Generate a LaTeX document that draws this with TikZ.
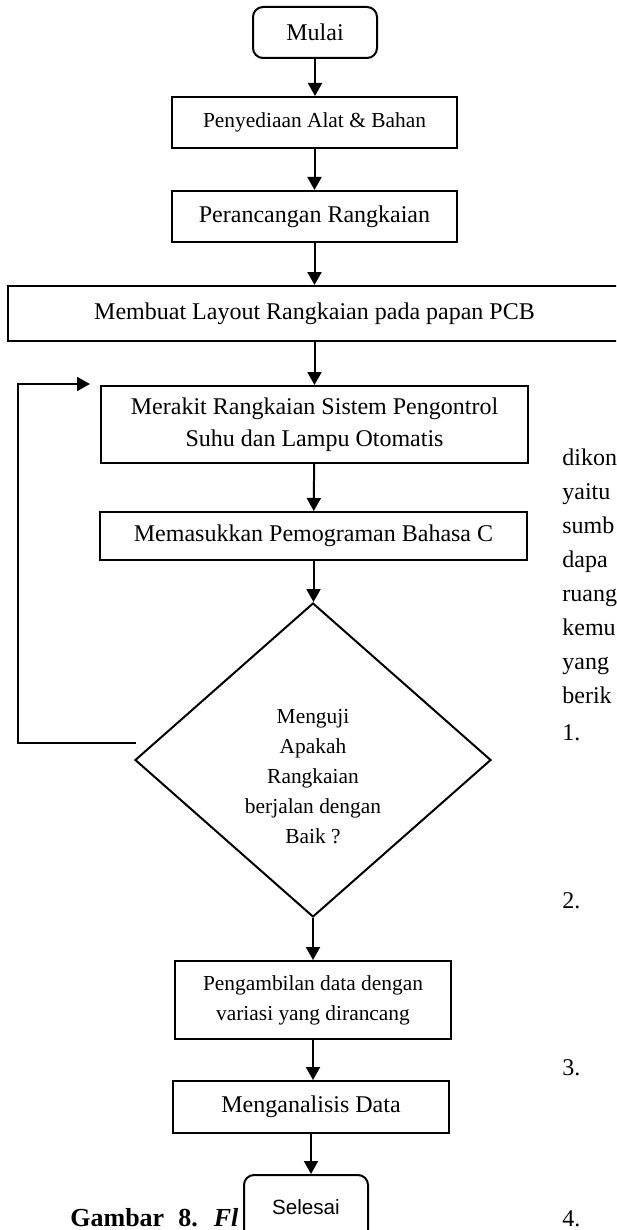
\documentclass[tikz,border=0pt]{standalone}
\usepackage{fontspec}
\setmainfont{Liberation Serif}
\setsansfont{Liberation Sans}
\usetikzlibrary{shapes.geometric,arrows.meta}

\tikzset{
  kotak/.style={draw,line width=1pt,inner sep=0pt,align=center,
    font=\fontsize{12}{16}\selectfont},
  kecil/.style={font=\fontsize{10.7}{15}\selectfont},
  terminal/.style={kotak,rounded corners=5pt},
  keputusan/.style={draw,diamond,line width=1pt,inner sep=0pt,
    minimum width=178pt,minimum height=157pt},
  panah/.style={line width=1pt,-{Triangle[length=6.5pt,width=7pt]}},
  halaman/.style={anchor=base west,inner sep=0pt,font=\fontsize{12}{15}\selectfont}
}

\begin{document}
\begin{tikzpicture}[x=0.5pt,y=-0.5pt]
  \useasboundingbox (0,0) rectangle (616,1230);
  \clip (0,0) rectangle (616,1230);
  % teks halaman di sebelah kanan
  \node[halaman] (t1) at (562,465) {dikon};
  \node[halaman] (t2) at (562,499) {yaitu};
  \node[halaman] (t3) at (562,533) {sumb};
  \node[halaman] (t4) at (562,567) {dapa};
  \node[halaman] (t5) at (562,601) {ruang};
  \node[halaman] (t6) at (562,635) {kemu};
  \node[halaman] (t7) at (562,669) {yang};
  \node[halaman] (t8) at (562,703) {berik};
  \node[halaman] (n1) at (562,740) {1.};
  \node[halaman] (n2) at (562,908) {2.};
  \node[halaman] (n3) at (562,1075) {3.};
  \node[halaman] (n4) at (562,1226) {4.};
  \node[halaman,font=\fontsize{13}{15}\selectfont\bfseries] (judul) at (70,1226)
    {Gambar\hspace{7pt}8.\hspace{8pt}\textit{Fl}};
  % bagan alir
  \node[terminal,minimum width=62pt,minimum height=25.5pt] (mulai) at (315,32.5) {Mulai};
  \node[kotak,kecil,minimum width=142.5pt,minimum height=25.5pt] (alat) at (314.5,122.5)
    {Penyediaan Alat \& Bahan};
  \node[kotak,minimum width=142.5pt,minimum height=25.5pt] (rancang) at (314.5,216.5)
    {Perancangan Rangkaian};
  \node[kotak,minimum width=306.5pt,minimum height=27.5pt] (layout) at (314.5,313.5)
    {Membuat Layout Rangkaian pada papan PCB};
  \node[kotak,minimum width=213.5pt,minimum height=38.5pt] (rakit) at (314.5,424.5)
    {Merakit Rangkaian Sistem Pengontrol\\Suhu dan Lampu Otomatis};
  \node[kotak,minimum width=213.5pt,minimum height=24pt] (program) at (313.5,536)
    {Memasukkan Pemograman Bahasa C};
  \node[keputusan] (uji) at (313,760) {};
  \node[kecil,align=center,inner sep=0pt] (ujiteks) at (313,777)
    {Menguji\\Apakah\\Rangkaian\\berjalan dengan\\Baik ?};
  \node[kotak,kecil,minimum width=138pt,minimum height=39pt] (data) at (313,1000)
    {Pengambilan data dengan\\variasi yang dirancang};
  \node[kotak,minimum width=138pt,minimum height=26pt] (analisis) at (311,1107)
    {Menganalisis Data};
  \node[terminal,fill=white,font=\sffamily\fontsize{10.3}{12}\selectfont,
    minimum width=62pt,minimum height=32.5pt] (selesai) at (306,1207.5) {Selesai};
  \coordinate (balik) at (136,743);
  \coordinate (masuk) at (90,384);
  % panah
  \draw[panah] (mulai.south) -- (mulai.south |- alat.north);
  \draw[panah] (alat) -- (rancang);
  \draw[panah] (rancang) -- (layout);
  \draw[panah] (layout) -- (rakit);
  \draw[panah] (rakit) -- (program);
  \draw[panah] (program.south) -- (program.south |- uji.north);
  \draw[panah] (uji.south) -- (uji.south |- data.north);
  \draw[panah] (data.south) -- (data.south |- analisis.north);
  \draw[panah] (analisis.south) -- (analisis.south |- selesai.north);
  \draw[panah] (balik) -- (18,743) |- (masuk);
\end{tikzpicture}
\end{document}
